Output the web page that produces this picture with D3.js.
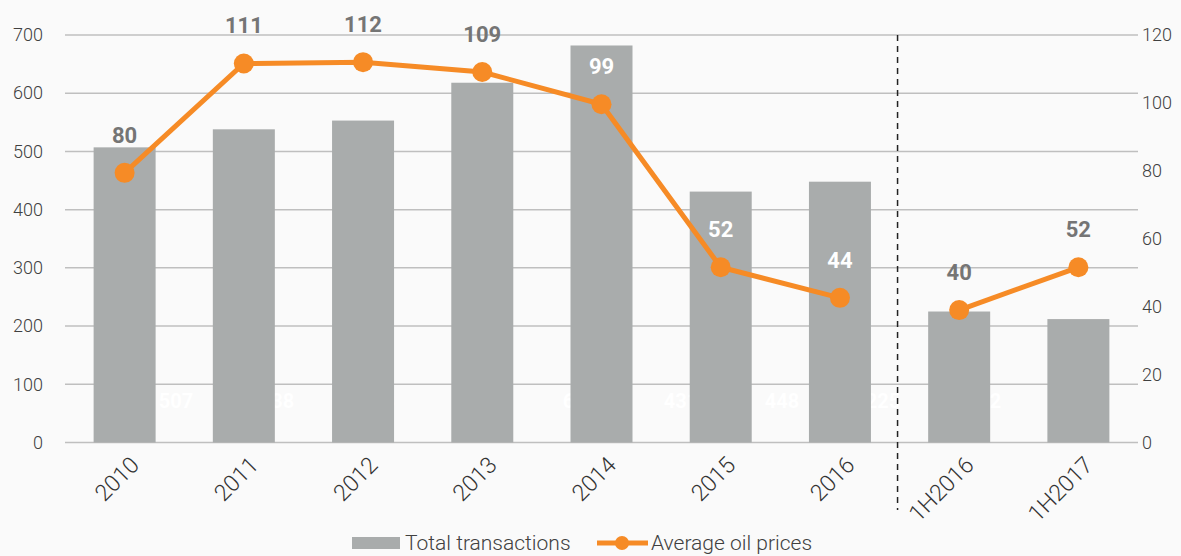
<!DOCTYPE html>
<html>
<head>
<meta charset="utf-8">
<script src="https://cdn.jsdelivr.net/npm/d3@7"></script>
<style>
  html, body { margin: 0; padding: 0; background: #fafafa; }
  svg { display: block; font-family: Roboto, "Open Sans", sans-serif; }
</style>
</head>
<body>
<svg id="chart" width="1181" height="556"></svg>
<script>
// chart data
const categories = ['2010', '2011', '2012', '2013', '2014', '2015', '2016', '1H2016', '1H2017']
const transactions = [507, 538, 553, 618, 682, 431, 448, 225, 212]
const oilPrices = [79.4, 111.6, 112.0, 109.1, 99.6, 51.6, 42.6, 39.0, 51.6]
const oilLabels = ['80', '111', '112', '109', '99', '52', '44', '40', '52']
const leftTicks = [0, 100, 200, 300, 400, 500, 600, 700]
const rightTicks = [0, 20, 40, 60, 80, 100, 120]
const legendLabels = ['Total transactions', 'Average oil prices']

const width = 1181
const height = 556
const margin = { top: 35, right: 43, bottom: 114, left: 65 }

const svg = d3.select('#chart')

let x = d3.scaleBand()
    .domain(categories)
    .range([margin.left, width - margin.right])
    .paddingInner(0.48)
    .paddingOuter(0.24)

let yLeft = d3.scaleLinear()
    .domain([0, 700])
    .range([height - margin.bottom + 0.5, margin.top])

let yRight = d3.scaleLinear()
    .domain([0, 120])
    .range([height - margin.bottom + 0.5, margin.top])

// white value labels sit under the bars, on their own spacing
let xValue = d3.scalePoint()
    .domain(categories)
    .range([176, 984])

/**
 * Gridlines and the two value axes
 */
svg.append('g')
    .attr('transform', `translate(${margin.left},0)`)
    .call(d3.axisLeft(yLeft).tickValues(leftTicks).tickSize(0).tickPadding(22))
    .call(g => g.select('.domain').remove())
    .call(g => g.selectAll('text')
        .attr('font-size', 18)
        .attr('font-weight', 300)
        .attr('font-family', 'Roboto, sans-serif')
        .attr('fill', '#404040'))

svg.append('g')
    .attr('transform', `translate(${width - margin.right},0)`)
    .call(d3.axisRight(yRight).tickValues(rightTicks).tickSize(0).tickPadding(4))
    .call(g => g.select('.domain').remove())
    .call(g => g.selectAll('text')
        .attr('font-size', 18)
        .attr('font-weight', 300)
        .attr('font-family', 'Roboto, sans-serif')
        .attr('fill', '#404040'))

svg.append('g')
    .selectAll('line')
    .data(leftTicks)
    .join('line')
    .attr('x1', margin.left)
    .attr('x2', width - margin.right)
    .attr('y1', d => yLeft(d))
    .attr('y2', d => yLeft(d))
    .attr('stroke', '#bfbfbf')
    .attr('stroke-width', 1.5)

// hidden-ish white totals drawn before the bars
svg.append('g')
    .selectAll('text')
    .data(transactions)
    .join('text')
    .attr('x', (d, i) => xValue(categories[i]))
    .attr('y', yLeft(0) - 42)
    .attr('dy', '0.35em')
    .attr('text-anchor', 'middle')
    .attr('font-size', 20)
    .attr('font-weight', 700)
    .attr('fill', '#ffffff')
    .text(d => d)

// bars
svg.append('g')
    .selectAll('rect')
    .data(transactions)
    .join('rect')
    .attr('x', (d, i) => x(categories[i]))
    .attr('width', x.bandwidth())
    .attr('y', d => yLeft(d))
    .attr('height', d => yLeft(0) - yLeft(d))
    .attr('fill', '#a9acac')

// dashed separator between full years and half years
let sepX = (x(categories[6]) + x.bandwidth() + x(categories[7])) / 2 - 2
svg.append('line')
    .attr('x1', sepX)
    .attr('x2', sepX)
    .attr('y1', margin.top)
    .attr('y2', 510)
    .attr('stroke', '#222')
    .attr('stroke-width', 1.5)
    .attr('stroke-dasharray', '6,5')

// oil price line, broken between full years and half years
let cx = i => x(categories[i]) + x.bandwidth() / 2
let line = d3.line()
    .x(d => d.x)
    .y(d => d.y)

let pts = oilPrices.map((d, i) => ({ x: cx(i), y: yRight(d) }))
let segments = [pts.slice(0, 7), pts.slice(7)]

svg.append('g')
    .selectAll('path')
    .data(segments)
    .join('path')
    .attr('d', line)
    .attr('fill', 'none')
    .attr('stroke', '#f68b26')
    .attr('stroke-width', 5)

svg.append('g')
    .selectAll('circle')
    .data(pts)
    .join('circle')
    .attr('cx', d => d.x)
    .attr('cy', d => d.y)
    .attr('r', 10)
    .attr('fill', '#f68b26')

// price labels, white where they fall on a bar
svg.append('g')
    .selectAll('text')
    .data(oilPrices)
    .join('text')
    .attr('x', (d, i) => cx(i))
    .attr('y', d => yRight(d) - 38)
    .attr('dy', '0.35em')
    .attr('text-anchor', 'middle')
    .attr('font-size', 22)
    .attr('font-weight', 700)
    .attr('fill', (d, i) => (yRight(d) - 40 > yLeft(transactions[i])) ? '#ffffff' : '#757575')
    .text((d, i) => oilLabels[i])

// category labels
svg.append('g')
    .selectAll('text')
    .data(categories)
    .join('text')
    .attr('transform', d => `translate(${x(d) + x.bandwidth() / 2 + 16},${yLeft(0) + 24}) rotate(-45)`)
    .attr('text-anchor', 'end')
    .attr('font-size', 23)
    .attr('font-weight', 300)
    .attr('fill', '#333')
    .text(d => d)

// legend
let legend = svg.append('g').attr('transform', 'translate(352,543)')
legend.append('rect')
    .attr('x', 0).attr('y', -6).attr('width', 48).attr('height', 12)
    .attr('fill', '#a9acac')
legend.append('text')
    .attr('x', 53).attr('dy', '0.35em')
    .attr('font-size', 21).attr('font-weight', 300).attr('fill', '#404040')
    .text(legendLabels[0])
legend.append('line')
    .attr('x1', 245).attr('x2', 296)
    .attr('stroke', '#f68b26').attr('stroke-width', 5)
legend.append('circle')
    .attr('cx', 270).attr('r', 7).attr('fill', '#f68b26')
legend.append('text')
    .attr('x', 299).attr('dy', '0.35em')
    .attr('font-size', 21).attr('font-weight', 300).attr('fill', '#404040')
    .text(legendLabels[1])
</script>
</body>
</html>
